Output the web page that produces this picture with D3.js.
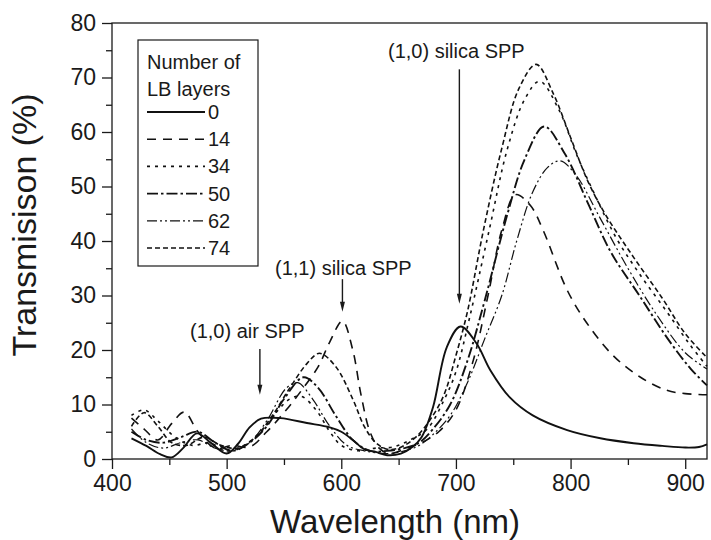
<!DOCTYPE html>
<html>
<head>
<meta charset="utf-8">
<script src="https://cdn.jsdelivr.net/npm/d3@7"></script>
<style>
  body { margin: 0; background: #fff; }
  text { font-family: "Liberation Sans", Arial, Helvetica, sans-serif; fill: #1a1a1a; }
</style>
</head>
<body>
<svg id="chart"></svg>
<script>
// layer counts shown in the legend
const layerCounts = ["0", "14", "34", "50", "62", "74"];

// [wavelength nm, transmission %]
const layers0 = [[417,3.8],[430,2.4],[442,0.9],[452,0.3],[462,2.0],[474,4.7],[486,3.0],[500,1.0],[510,2.8],[520,5.8],[530,7.4],[547,7.5],[570,6.6],[590,5.8],[600,5.0],[610,3.5],[620,1.8],[630,1.3],[640,0.7],[652,1.0],[662,2.2],[670,4.0],[680,9.5],[692,20.5],[704,24.3],[718,21.2],[730,16.3],[747,11.3],[767,8],[797,5.3],[826,3.8],[855,2.9],[880,2.4],[900,2.1],[912,2.2],[919,2.7]];
const layers14 = [[417,7.5],[428,5.5],[440,3.5],[452,6.5],[463,8.6],[475,5],[490,2],[505,2.5],[520,2.2],[535,5],[550,8.5],[565,12.5],[580,17],[590,21.5],[601,25.3],[610,20],[617,12],[625,5],[633,2],[642,1],[655,1.8],[670,3],[685,5],[700,9],[715,18],[728,30],[740,42],[752,48.5],[765,46.5],[776,42],[797,31],[814,25],[837,19],[861,15],[884,12.6],[900,12],[919,11.8]];
const layers34 = [[417,8],[428,9],[440,7],[455,4],[470,2.5],[485,3],[500,1.5],[515,2.5],[530,5],[545,9],[555,11],[565,11.5],[578,9],[590,5],[600,2.5],[615,1.5],[630,2],[645,2.2],[660,3.5],[675,5.5],[690,11],[700,16],[712,26],[729,42],[745,57],[760,66],[773,69.3],[790,64],[805,56],[820,49],[840,40.5],[860,34],[884,27],[904,21],[919,17]];
const layers50 = [[417,5],[430,3.5],[445,3],[460,4],[475,5],[490,3],[505,1.5],[520,3],[535,6],[550,11],[567,15],[580,13],[595,8],[610,3.5],[625,1.5],[640,1.5],[655,2],[668,3],[680,5.5],[695,10],[710,18],[725,29],[745,45],[760,55],[777,61],[795,56],[815,47],[835,38],[860,30],[885,22],[905,16.5],[919,13.5]];
const layers62 = [[417,5.5],[430,3],[445,2],[460,3],[475,3.5],[490,2],[505,1.5],[520,3],[535,7],[552,13],[562,14],[575,11],[590,6],[605,2.5],[620,1.5],[640,1],[655,1.5],[668,2.5],[680,4.5],[695,8],[710,14],[725,22],[740,30],[753,40],[767,49],[780,53.5],[791,54.7],[805,52],[825,44.5],[850,35],[875,26.5],[900,19.5],[919,16.5]];
const layers74 = [[417,6],[428,8.5],[440,6],[452,3],[465,2.5],[480,4],[495,2.5],[510,2],[525,4],[540,8],[555,13],[570,17.5],[581,19.4],[595,17],[610,11],[620,6],[630,3],[640,1.8],[650,2],[665,4],[680,8],[690,12],[700,19],[710,27],[724,42],[740,57],[755,68],[770,72.4],[785,67],[800,59],[815,51],[830,45],[855,37],[880,29.5],[900,23],[919,18.6]];

const xTicks = [400, 500, 600, 700, 800, 900];
const yTicks = [0, 10, 20, 30, 40, 50, 60, 70, 80];

// annotations: label, wavelength of arrow, arrow top / tip in %
const notes = [
  { label: "(1,0) silica SPP", x: 703, top: 71.5, tip: 28.5, tx: 388, ty: 58 },
  { label: "(1,1) silica SPP", x: 601, top: 33, tip: 27, tx: 275, ty: 275 },
  { label: "(1,0) air SPP", x: 529, top: 20.2, tip: 11.8, tx: 190, ty: 338 }
];

const series = [layers0, layers14, layers34, layers50, layers62, layers74];
const dashes = [null, "9,7", "3,5", "11,3,2.5,3", "10,3,2,3,2,3", "5,3"];
const widths = [1.9, 1.6, 1.6, 1.9, 1.2, 1.6];

const w = 711, h = 540;
const m = { left: 112, right: 707, top: 23, bottom: 459 };

const svg = d3.select("#chart").attr("width", w).attr("height", h);

const x = d3.scaleLinear().domain([400, 919]).range([m.left, m.right]);
const y = d3.scaleLinear().domain([0, 80]).range([m.bottom, m.top]);

// frame
svg.append("rect")
  .attr("x", m.left).attr("y", m.top)
  .attr("width", m.right - m.left).attr("height", m.bottom - m.top)
  .attr("fill", "none").attr("stroke", "#1a1a1a").attr("stroke-width", 1.3);

// x axis
svg.append("g")
  .attr("transform", "translate(0," + m.bottom + ")")
  .call(d3.axisBottom(x).tickValues(xTicks).tickSize(10).tickPadding(6).tickFormat(d3.format("d")));
svg.append("g")
  .attr("transform", "translate(0," + m.bottom + ")")
  .call(d3.axisBottom(x).tickValues([450, 550, 650, 750, 850]).tickSize(6).tickFormat(""));

// y axis
svg.append("g")
  .attr("transform", "translate(" + m.left + ",0)")
  .call(d3.axisLeft(y).tickValues(yTicks).tickSize(10).tickPadding(6));
svg.append("g")
  .attr("transform", "translate(" + m.left + ",0)")
  .call(d3.axisLeft(y).tickValues([5, 15, 25, 35, 45, 55, 65, 75]).tickSize(6).tickFormat(""));

svg.selectAll(".domain").remove();
svg.selectAll(".tick line").attr("stroke", "#1a1a1a").attr("stroke-width", 1.3);
svg.selectAll(".tick text").style("font-size", "23px").attr("fill", "#1a1a1a");

// axis titles
svg.append("text")
  .attr("x", 395).attr("y", 533)
  .attr("text-anchor", "middle")
  .style("font-size", "33px")
  .text("Wavelength (nm)");
svg.append("text")
  .attr("transform", "translate(36,225) rotate(-90)")
  .attr("text-anchor", "middle")
  .style("font-size", "34px")
  .text("Transmisison (%)");

// curves
const line = d3.line()
  .x((d) => x(d[0]))
  .y((d) => y(d[1]))
  .curve(d3.curveCatmullRom.alpha(0.5));

svg.append("g")
  .selectAll("path")
  .data(series)
  .enter()
  .append("path")
  .attr("d", line)
  .attr("fill", "none")
  .attr("stroke", "#111")
  .attr("stroke-width", (d, i) => widths[i])
  .attr("stroke-dasharray", (d, i) => dashes[i]);

// annotations
const ann = svg.append("g");
notes.forEach((n) => {
  ann.append("text")
    .attr("x", n.tx).attr("y", n.ty)
    .style("font-size", "20px")
    .text(n.label);
  const ax = x(n.x);
  ann.append("line")
    .attr("x1", ax).attr("x2", ax)
    .attr("y1", y(n.top)).attr("y2", y(n.tip) - 8)
    .attr("stroke", "#1a1a1a").attr("stroke-width", 1.4);
  ann.append("path")
    .attr("d", "M" + (ax - 2.5) + "," + (y(n.tip) - 10) + " L" + (ax + 2.5) + "," + (y(n.tip) - 10) + " L" + ax + "," + y(n.tip) + "Z")
    .attr("fill", "#1a1a1a");
});

// legend
const lg = svg.append("g");
lg.append("rect")
  .attr("x", 138).attr("y", 40)
  .attr("width", 120).attr("height", 226)
  .attr("fill", "#fff").attr("stroke", "#1a1a1a").attr("stroke-width", 1.2);
lg.append("text").attr("x", 147).attr("y", 69).style("font-size", "20px").text("Number of");
lg.append("text").attr("x", 147).attr("y", 96).style("font-size", "20px").text("LB layers");
layerCounts.forEach((c, i) => {
  const cy = 112 + i * 27.2;
  lg.append("line")
    .attr("x1", 147).attr("x2", 205)
    .attr("y1", cy).attr("y2", cy)
    .attr("stroke", "#111")
    .attr("stroke-width", widths[i])
    .attr("stroke-dasharray", dashes[i]);
  lg.append("text").attr("x", 208).attr("y", cy + 7).style("font-size", "20px").text(c);
});
</script>
</body>
</html>
